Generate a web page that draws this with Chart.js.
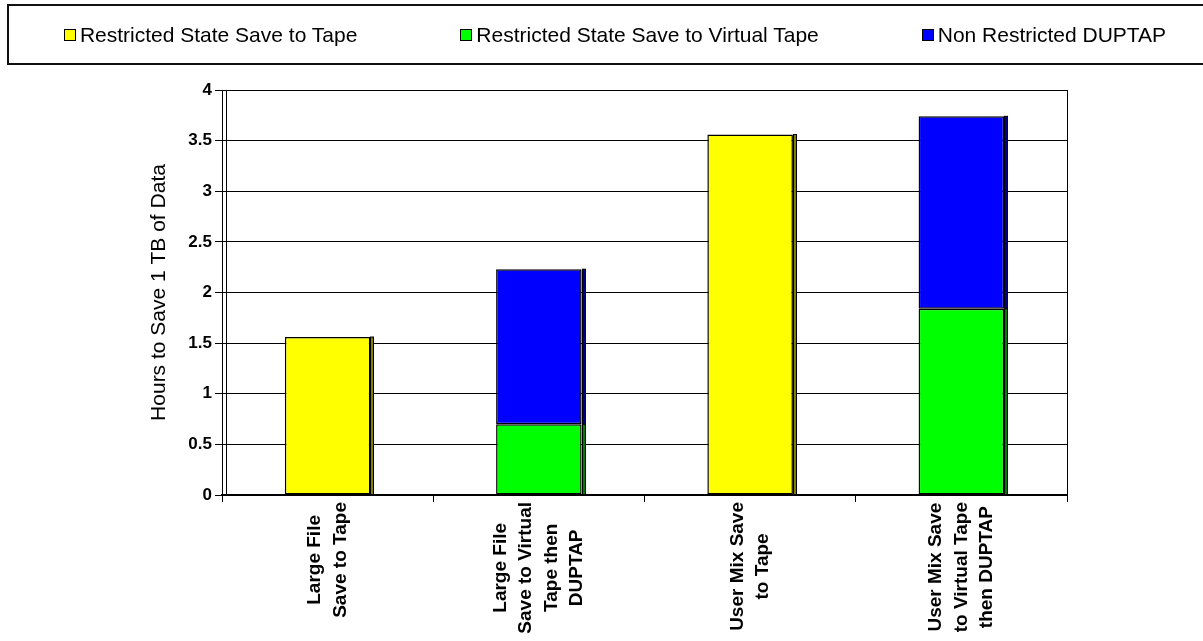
<!DOCTYPE html>
<html>
<head>
<meta charset="utf-8">
<script src="https://cdn.jsdelivr.net/npm/chart.js@4/dist/chart.umd.min.js"></script>
<style>
  html, body { margin: 0; padding: 0; background: #fff; }
  #wrap { position: relative; width: 1203px; height: 641px; overflow: hidden; }
  #chart { position: absolute; left: 0; top: 0; }
  #legend {
    position: absolute; left: 7px; top: 4px; width: 1212px; height: 57px;
    border: 2px solid #111; box-sizing: content-box;
    display: flex; align-items: center; justify-content: center; gap: 103px;
    font-family: 'Liberation Sans', Arial, sans-serif; font-size: 21px; color: #000;
  }
  .lg-item { display: flex; align-items: center; white-space: nowrap; }
  .lg-box { width: 10px; height: 10px; border: 1px solid #000; margin-right: 4px; }
</style>
</head>
<body>
<div id="wrap">
  <canvas id="chart" width="1203" height="641"></canvas>
  <div id="legend"></div>
</div>
<script>
// ─── data ────────────────────────────────────────────────────────────────────
const categories = [
  ['Large File', 'Save to Tape'],
  ['Large File', 'Save to Virtual', 'Tape then', 'DUPTAP'],
  ['User Mix Save', 'to Tape'],
  ['User Mix Save', 'to Virtual Tape', 'then DUPTAP'],
];
const seriesNames = [
  'Restricted State Save to Tape',
  'Restricted State Save to Virtual Tape',
  'Non Restricted DUPTAP',
];
const saveToTape    = [1.56, null, 3.56, null];
const saveToVirtual = [null, 0.70, null, 1.84];
const duptap        = [null, 1.53, null, 1.90];
const yTicks = [0, 0.5, 1, 1.5, 2, 2.5, 3, 3.5, 4];
const yTitle = 'Hours to Save 1 TB of Data';

const FILL  = ['#ffff00', '#00ff00', '#0000ff'];
const SHADE = ['#808000', '#008000', '#000080'];
const FONT  = "'Liberation Sans', Arial, sans-serif";

function barDS(label, data, i) {
  return {
    label, data,
    backgroundColor: FILL[i],
    borderColor: '#000',
    borderWidth: 1.5,
    borderSkipped: false,
    categoryPercentage: 1,
    barPercentage: 0.405,
    _shade: SHADE[i],
  };
}

/** Side strip that gives the bars their flat 3D edge. */
const barEdge = {
  id: 'barEdge',
  afterDatasetsDraw(chart) {
    const ctx = chart.ctx;
    chart.data.datasets.forEach((ds, di) => {
      const meta = chart.getDatasetMeta(di);
      meta.data.forEach((el, i) => {
        if (ds.data[i] == null) return;
        const p = el.getProps(['x', 'y', 'base', 'width'], true);
        const x0 = Math.round(p.x + p.width / 2);
        ctx.save();
        ctx.fillStyle = ds._shade;
        ctx.fillRect(x0, p.y, 4, p.base - p.y);
        ctx.strokeStyle = '#000';
        ctx.lineWidth = 1;
        ctx.strokeRect(x0 + 0.5, p.y, 3, p.base - p.y);
        ctx.restore();
      });
    });
  },
};

/** Plot frame and centred multi-line rotated category labels. */
const frameAndLabels = {
  id: 'frameAndLabels',
  beforeDatasetsDraw(chart) {
    const { ctx, chartArea: a } = chart;
    ctx.save();
    ctx.strokeStyle = '#000';
    ctx.lineWidth = 1;
    ctx.strokeRect(Math.round(a.left) + 4.5, Math.round(a.top) + 0.5,
                   Math.round(a.right - a.left) - 4, Math.round(a.bottom - a.top));
    ctx.restore();
  },
  afterDraw(chart) {
    const { ctx, chartArea: a } = chart;
    const xs = chart.scales.x;
    const lh = 25.5;
    ctx.save();
    ctx.font = 'bold 19px ' + FONT;
    ctx.fillStyle = '#000';
    ctx.textAlign = 'center';
    ctx.textBaseline = 'middle';
    categories.forEach((lines, i) => {
      const cx = xs.getPixelForValue(i);
      const maxW = Math.max(...lines.map(l => ctx.measureText(l).width));
      ctx.save();
      ctx.translate(cx, a.bottom + 7);
      ctx.rotate(-Math.PI / 2);
      lines.forEach((l, j) => {
        ctx.fillText(l, -maxW / 2, (j - (lines.length - 1) / 2) * lh);
      });
      ctx.restore();
    });
    ctx.restore();
  },
};

new Chart(document.getElementById('chart'), {
  type: 'bar',
  data: {
    labels: categories.map(c => c.join(' ')),
    datasets: [
      barDS(seriesNames[0], saveToTape, 0),
      barDS(seriesNames[1], saveToVirtual, 1),
      barDS(seriesNames[2], duptap, 2),
    ],
  },
  options: {
    responsive: false,
    animation: false,
    events: [],
    layout: { padding: { top: 90, right: 136, bottom: 0, left: 143 } },
    plugins: { legend: { display: false }, tooltip: { enabled: false } },
    scales: {
      x: {
        stacked: true,
        offset: true,
        grid: { display: true, drawOnChartArea: false, color: '#000', tickLength: 7, offset: true },
        border: { display: true, color: '#000', width: 2 },
        ticks: { display: false },
        afterFit(s) { s.height = 146; },
      },
      y: {
        stacked: true,
        min: 0, max: 4,
        afterBuildTicks(s) { s.ticks = yTicks.map(v => ({ value: v })); },
        grid: { color: '#000', lineWidth: 1, tickLength: 7 },
        border: { display: true, color: '#000', width: 1 },
        ticks: {
          color: '#000', padding: 3,
          font: { family: FONT, size: 17, weight: 'bold' },
          callback: v => String(v),
        },
        title: {
          display: true, text: yTitle, color: '#000',
          font: { family: FONT, size: 21 }, padding: { top: 4, bottom: 4 },
        },
        afterFit(s) { s.width = 79; },
      },
    },
  },
  plugins: [frameAndLabels, barEdge],
});

// ─── legend ─────────────────────────────────────────────────────────────────
document.getElementById('legend').innerHTML = seriesNames.map((n, i) => `
  <div class="lg-item"><span class="lg-box" style="background:${FILL[i]}"></span>${n}</div>
`).join('');
</script>
</body>
</html>
